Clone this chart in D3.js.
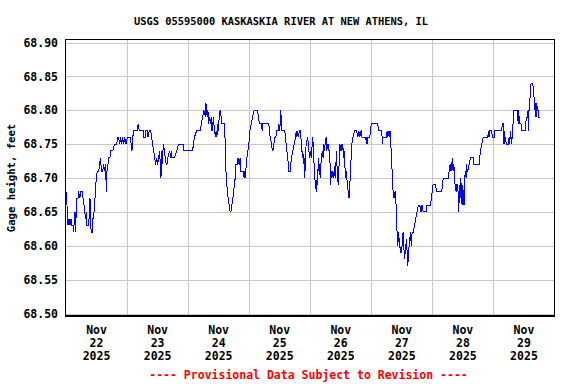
<!DOCTYPE html>
<html>
<head>
<meta charset="utf-8">
<script src="https://cdn.jsdelivr.net/npm/d3@7"></script>
<style>
  html, body { margin: 0; padding: 0; background: #ffffff; }
  svg { display: block; }
  text { font-family: "DejaVu Sans Mono", "Liberation Mono", monospace; font-weight: bold; }
</style>
</head>
<body>
<svg id="chart" width="576" height="384"></svg>
<script>
// ---------------- DATA ----------------
const titleText = "USGS 05595000 KASKASKIA RIVER AT NEW ATHENS, IL";
const yAxisLabel = "Gage height, feet";
const footerText = "---- Provisional Data Subject to Revision ----";
const startUTC = Date.UTC(2025, 10, 22); // Nov 22 2025 00:00
const dayCount = 8;
const yTicks = [68.50, 68.55, 68.60, 68.65, 68.70, 68.75, 68.80, 68.85, 68.90];
const xMonth = "Nov";
const xDays = ["22", "23", "24", "25", "26", "27", "28", "29"];
const xYear = "2025";

// hours since Nov 22 00:00
const hours = [
0.00,0.27,0.51,0.79,1.18,1.57,1.96,2.36,2.75,3.02,3.26,3.54,3.81,4.05,4.32,4.71,4.99,5.38,5.89,6.40,
6.68,7.07,7.35,7.74,7.97,8.25,8.92,9.43,9.70,9.94,10.33,10.61,11.00,11.27,11.51,11.90,12.29,12.84,13.24,13.47,
13.75,14.02,14.42,14.81,15.20,15.59,15.83,16.10,16.50,16.89,17.28,17.56,18.34,19.13,19.92,20.31,20.70,21.09,21.49,21.88,
22.27,22.66,23.06,23.57,24.08,25.14,25.65,25.92,26.20,26.71,28.01,28.40,28.79,30.36,30.64,31.15,31.42,31.93,32.21,32.72,
33.27,33.66,34.06,34.45,34.84,35.23,35.63,36.02,36.41,36.81,37.04,37.32,37.59,37.91,38.22,38.69,39.00,39.40,39.67,40.07,
40.73,41.13,41.36,41.64,42.70,43.48,44.27,46.08,46.15,49.77,50.08,50.48,51.34,52.91,53.15,53.70,54.21,54.80,54.99,55.27,
55.50,55.78,56.05,56.37,56.76,57.08,57.35,57.63,57.86,58.41,58.73,59.04,59.31,59.59,59.90,60.22,60.61,61.00,61.28,62.34,
62.57,62.85,63.12,63.36,63.75,64.15,64.54,64.81,65.20,65.60,65.87,66.19,66.50,66.78,67.29,67.56,68.07,68.47,68.62,69.64,
70.04,70.31,70.59,70.82,71.10,71.49,71.88,72.28,72.79,73.34,73.96,75.30,75.61,76.01,76.87,77.11,77.38,79.74,79.94,80.25,
80.80,81.11,81.31,81.70,82.10,82.49,82.88,83.39,83.67,83.94,84.18,84.45,84.73,86.02,86.22,86.53,86.81,87.09,87.40,87.59,
88.10,88.30,88.65,89.17,89.68,90.23,90.54,90.74,91.01,91.25,91.72,92.03,92.31,92.58,92.90,93.09,93.37,93.61,93.88,94.08,
94.39,94.94,95.26,95.45,95.84,96.24,96.51,96.75,97.02,97.30,97.53,97.81,98.08,98.40,98.71,98.87,99.18,99.38,99.65,99.89,
100.16,100.44,100.68,101.03,101.23,101.54,101.85,102.25,102.52,102.80,103.19,103.58,103.82,104.02,104.29,104.49,104.88,105.27,105.55,105.78,
105.94,106.25,106.45,106.72,106.96,107.23,107.63,107.90,108.14,108.41,108.80,109.08,109.32,109.59,109.87,110.18,110.38,110.65,110.89,111.28,
111.56,111.83,112.07,112.34,112.74,113.40,114.19,114.70,115.09,115.48,115.99,116.39,117.84,118.04,118.24,118.43,118.63,119.41,119.69,120.00,
122.55,122.83,124.12,124.32,124.64,125.97,126.21,126.48,126.87,127.15,127.38,127.66,128.05,128.33,128.56,128.96,129.35,129.74,130.02,130.21,
130.41,130.68,130.92,131.20,131.47,131.71,131.98,132.18,132.49,132.77,133.04,133.28,133.55,133.83,134.07,134.34,134.62,134.85,135.12,135.40,
135.71,136.03,136.42,136.97,137.48,137.99,138.54,139.05,139.33,139.56,139.84,140.11,140.35,141.69,141.80,143.26,143.57,143.96,144.28,145.34,
145.53,147.69,147.97,148.28,150.32,150.56,150.95,151.34,151.62,151.89,152.13,152.40,152.68,152.92,153.31,153.58,153.98,154.38,154.65,154.88,
155.16,155.43,155.67,155.94,156.22,156.45,156.73,157.00,157.24,157.40,157.71,157.91,158.42,158.97,159.99,160.19,162.35,162.62,162.90,163.41,
163.92,165.76,166.04,166.27,166.55,167.33,167.53,168.31,168.51,171.26,171.46,171.77,171.97,172.24,172.44,172.72,173.03,173.90,174.13,174.41,
174.68,174.92,175.19,175.47,175.71,175.97,177.35,177.55,177.74,177.94,178.21,178.84,179.12,180.42,180.69,180.97,181.48,181.60,181.75,181.99,
182.26,182.54,182.78,183.44,183.72,183.95,184.23,184.50,184.74,185.01,185.29,185.53,185.80,186.19
];

const stage = [
68.68,68.67,68.65,68.63,68.64,68.63,68.64,68.63,68.63,68.62,68.64,68.65,68.62,68.66,68.67,68.67,68.68,68.67,68.68,68.68,
68.67,68.66,68.65,68.64,68.65,68.63,68.63,68.67,68.63,68.62,68.62,68.64,68.65,68.66,68.68,68.70,68.71,68.71,68.72,68.73,
68.72,68.71,68.71,68.72,68.71,68.72,68.68,68.71,68.72,68.73,68.73,68.74,68.74,68.75,68.75,68.76,68.76,68.75,68.76,68.75,
68.76,68.75,68.76,68.75,68.76,68.76,68.75,68.74,68.76,68.77,68.77,68.78,68.77,68.77,68.76,68.76,68.77,68.77,68.76,68.77,
68.77,68.76,68.75,68.74,68.73,68.72,68.73,68.72,68.73,68.74,68.72,68.70,68.74,68.72,68.75,68.74,68.73,68.72,68.72,68.73,
68.74,68.73,68.74,68.73,68.73,68.74,68.75,68.75,68.74,68.74,68.75,68.76,68.77,68.77,68.78,68.79,68.80,68.79,68.81,68.80,
68.79,68.80,68.78,68.79,68.78,68.79,68.77,68.77,68.79,68.77,68.76,68.77,68.76,68.78,68.77,68.79,68.80,68.79,68.78,68.78,
68.75,68.71,68.70,68.68,68.67,68.66,68.65,68.65,68.66,68.67,68.68,68.69,68.70,68.72,68.72,68.73,68.72,68.73,68.71,68.71,
68.70,68.71,68.70,68.72,68.73,68.74,68.75,68.77,68.78,68.79,68.80,68.80,68.79,68.78,68.78,68.77,68.78,68.78,68.77,68.76,
68.75,68.74,68.74,68.75,68.76,68.76,68.77,68.77,68.78,68.77,68.78,68.80,68.77,68.77,68.76,68.75,68.74,68.73,68.72,68.71,
68.71,68.72,68.73,68.74,68.75,68.76,68.77,68.76,68.77,68.76,68.77,68.77,68.76,68.75,68.73,68.74,68.72,68.73,68.70,68.73,
68.75,68.76,68.75,68.74,68.73,68.74,68.73,68.75,68.76,68.73,68.72,68.70,68.69,68.68,68.70,68.69,68.73,68.71,68.72,68.70,
68.72,68.73,68.74,68.73,68.75,68.74,68.75,68.76,68.74,68.75,68.75,68.73,68.72,68.69,68.71,68.70,68.71,68.70,68.71,68.72,
68.70,68.74,68.72,68.71,68.69,68.71,68.75,68.74,68.75,68.74,68.75,68.73,68.74,68.72,68.70,68.71,68.70,68.69,68.68,68.67,
68.69,68.71,68.73,68.75,68.76,68.77,68.77,68.76,68.77,68.76,68.77,68.76,68.76,68.75,68.76,68.75,68.76,68.76,68.77,68.78,
68.78,68.77,68.77,68.75,68.76,68.76,68.77,68.76,68.77,68.76,68.77,68.75,68.72,68.70,68.68,68.67,68.68,68.66,68.63,68.61,
68.60,68.62,68.61,68.60,68.59,68.60,68.59,68.61,68.62,68.60,68.58,68.59,68.60,68.61,68.59,68.57,68.59,68.60,68.61,68.62,
68.60,68.62,68.62,68.63,68.64,68.65,68.66,68.66,68.65,68.66,68.65,68.66,68.65,68.65,68.66,68.66,68.67,68.68,68.69,68.69,
68.68,68.68,68.69,68.70,68.70,68.71,68.72,68.71,68.72,68.73,68.71,68.72,68.71,68.69,68.68,68.69,68.69,68.65,68.69,68.67,
68.70,68.68,68.66,68.69,68.67,68.66,68.70,68.71,68.70,68.72,68.71,68.71,68.72,68.73,68.73,68.72,68.72,68.73,68.74,68.75,
68.76,68.76,68.77,68.76,68.77,68.77,68.76,68.76,68.77,68.77,68.78,68.78,68.75,68.77,68.75,68.76,68.75,68.75,68.76,68.75,
68.77,68.76,68.75,68.77,68.78,68.80,68.80,68.79,68.78,68.80,68.78,68.78,68.77,68.77,68.78,68.79,68.79,68.80,68.77,68.80,
68.81,68.83,68.84,68.84,68.83,68.82,68.80,68.81,68.79,68.81,68.80,68.80,68.79,68.79
];

// ---------------- CHART ----------------
(function () {
const svg = d3.select("#chart");
const plotL = 66, plotR = 554.5, plotT = 42.5, plotB = 313.5;
const frame = { x: 65.5, y: 39.5, w: 489, h: 276.5 };

const x = d3.scaleUtc()
  .domain([new Date(startUTC), new Date(startUTC + dayCount * 864e5)])
  .range([plotL, plotR]);
const y = d3.scaleLinear().domain([68.50, 68.90]).range([plotB, plotT]);

const data = hours.map((h, i) => ({ t: new Date(startUTC + h * 3600e3), v: stage[i] }));

// title
svg.append("text")
  .attr("x", 281).attr("y", 25)
  .attr("text-anchor", "middle")
  .style("font-size", "10.4px")
  .text(titleText);

// grid
const grid = svg.append("g").attr("shape-rendering", "crispEdges");
grid.selectAll("line.h").data(yTicks).join("line")
  .attr("x1", frame.x).attr("x2", frame.x + frame.w)
  .attr("y1", d => Math.round(y(d)) + 0.5).attr("y2", d => Math.round(y(d)) + 0.5)
  .attr("stroke", "#c8c8c8").attr("stroke-width", 1);
const midnights = d3.utcDay.range(new Date(startUTC + 864e5), new Date(startUTC + dayCount * 864e5));
grid.selectAll("line.v").data(midnights).join("line")
  .attr("x1", d => Math.round(x(d)) + 0.5).attr("x2", d => Math.round(x(d)) + 0.5)
  .attr("y1", frame.y).attr("y2", frame.y + frame.h)
  .attr("stroke", "#c8c8c8").attr("stroke-width", 1);

// data line
svg.append("path")
  .datum(data)
  .attr("fill", "none")
  .attr("stroke", "#0000ff")
  .attr("stroke-width", 1)
  .attr("shape-rendering", "crispEdges")
  .attr("d", d3.line().x(d => x(d.t)).y(d => y(d.v)));

// frame
svg.append("rect")
  .attr("x", frame.x).attr("y", frame.y)
  .attr("width", frame.w).attr("height", frame.h)
  .attr("fill", "none").attr("stroke", "#000").attr("stroke-width", 1.3)
  .attr("shape-rendering", "crispEdges");

// y axis
const yAxis = d3.axisLeft(y).tickValues(yTicks).tickFormat(d3.format(".2f")).tickSize(0).tickPadding(8);
const gy = svg.append("g").attr("transform", `translate(${plotL},0)`).call(yAxis);
gy.select(".domain").remove();
gy.selectAll("text")
  .style("font-size", "11.5px")
  .style("font-family", "'DejaVu Sans Mono', monospace")
  .style("font-weight", "bold")
  .attr("fill", "#000");

// y label
svg.append("text")
  .attr("transform", "translate(15,178) rotate(-90)")
  .attr("text-anchor", "middle")
  .style("font-size", "10.6px")
  .text(yAxisLabel);

// x labels at noon of each day
const noons = xDays.map((d, i) => new Date(startUTC + i * 864e5 + 12 * 3600e3));
const xl = svg.append("g").selectAll("text").data(noons).join("text")
  .attr("text-anchor", "middle")
  .style("font-size", "11.5px");
xl.append("tspan").attr("x", d => x(d)).attr("y", 334).text(xMonth);
xl.append("tspan").attr("x", d => x(d)).attr("y", 347).text((d, i) => xDays[i]);
xl.append("tspan").attr("x", d => x(d)).attr("y", 360).text(xYear);

// footer
svg.append("text")
  .attr("x", 308.5).attr("y", 378.5)
  .attr("text-anchor", "middle")
  .attr("fill", "#ff0000")
  .style("font-size", "11.5px")
  .text(footerText);
})();
</script>
</body>
</html>
